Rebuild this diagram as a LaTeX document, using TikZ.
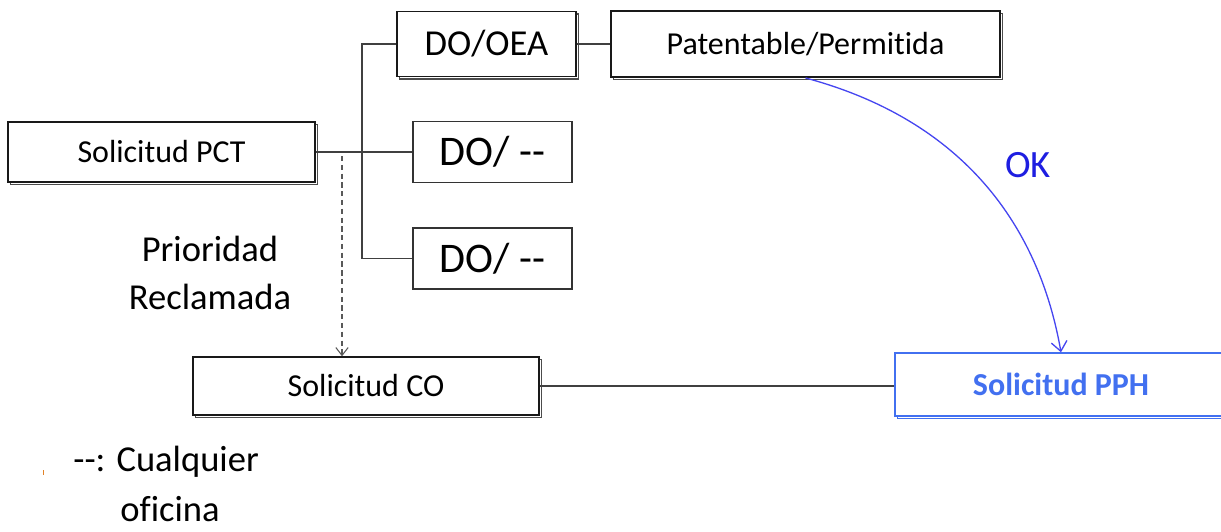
\documentclass[tikz,border=0pt]{standalone}
\usepackage{fontspec}
\setmainfont{Carlito}[Ligatures={TeX,NoCommon}]
\usetikzlibrary{shadows,arrows.meta}
\definecolor{pphblue}{RGB}{66,112,240}
\definecolor{okblue}{RGB}{70,70,240}
\definecolor{oktext}{RGB}{30,30,225}
\definecolor{dotorange}{RGB}{225,130,40}

\begin{document}
\begin{tikzpicture}[
	box/.style={draw=black!90, line width=0.8pt, fill=white, inner sep=0pt, font=\fontsize{18.2}{22}\selectfont},
	shadowbox/.style={box, copy shadow={shadow xshift=0.05cm, shadow yshift=-0.05cm, draw=black!70, fill=white, line width=0.6pt}},
	dobox/.style={draw=black!80, line width=0.8pt, inner sep=0pt, minimum width=3.18cm, minimum height=1.22cm, font=\fontsize{24}{29}\selectfont},
	link/.style={draw=black!75, line width=0.9pt}
]
	\useasboundingbox (0,0) rectangle (24.42,-10.62);
	\node[shadowbox, minimum width=6.14cm, minimum height=1.2cm] (PCT) at (3.23,-3.04) {Solicitud PCT};
	\node[shadowbox, minimum width=3.58cm, minimum height=1.3cm, font=\fontsize{20.8}{25}\selectfont] (DOOEA) at (9.73,-0.88) {DO/OEA};
	\node[shadowbox, line width=1.1pt, minimum width=7.78cm, minimum height=1.32cm] (Pat) at (16.11,-0.88) {Patentable/Permitida};
	\node[dobox] (DOa) at (9.85,-3.04) {DO/ \mbox{-}\mbox{-}};
	\node[dobox] (DOb) at (9.85,-5.17) {DO/ \mbox{-}\mbox{-}};
	\node[shadowbox, minimum width=6.92cm, minimum height=1.16cm] (CO) at (7.32,-7.72) {Solicitud CO};
	\node[box, draw=pphblue, text=pphblue, font=\fontsize{18.2}{22}\selectfont\bfseries, minimum width=6.64cm, minimum height=1.26cm,
		copy shadow={shadow xshift=0.05cm, shadow yshift=-0.05cm, draw=pphblue, fill=white, line width=0.6pt}] (PPH) at (21.22,-7.69) {Solicitud PPH};
	\node[text=oktext, font=\fontsize{22}{26}\selectfont] (OK) at (20.56,-3.3) {OK};
	\node[align=center, font=\fontsize{20.8}{27.3}\selectfont] (prior) at (4.2,-5.46) {Prioridad\\Reclamada};
	\node[anchor=base west, inner sep=0pt, font=\fontsize{20.8}{25}\selectfont] (leg) at (1.46,-9.42) {\mbox{-}\mbox{-}: Cualquier};
	\node[anchor=base west, inner sep=0pt, font=\fontsize{20.8}{25}\selectfont] (legb) at (2.4,-10.42) {oficina};
	\fill[dotorange] (0.85,-9.4) rectangle (0.88,-9.5);
	% ramas hacia las oficinas designadas
	\coordinate (fork) at (7.24,-3.04);
	\draw[link] (PCT.east) -- (DOa.west);
	\draw[link] (DOOEA.west) -| (fork) |- (DOb.west);
	\draw[link] (DOOEA) -- (Pat);
	\draw[link] (CO.east) -- (CO.east -| PPH.west);
	% prioridad y PPH
	\coordinate (claim) at (6.84,-3.12);
	\draw[black!65, line width=0.6pt, dash pattern=on 3pt off 2pt, -{Straight Barb[length=4.5pt, width=7pt]}] (claim) -- (claim |- CO.north);
	\draw[okblue, line width=0.75pt, -{Straight Barb[length=5.5pt, width=9pt]}] (Pat.south) to[out=-15, in=100] (PPH.north);
\end{tikzpicture}
\end{document}
